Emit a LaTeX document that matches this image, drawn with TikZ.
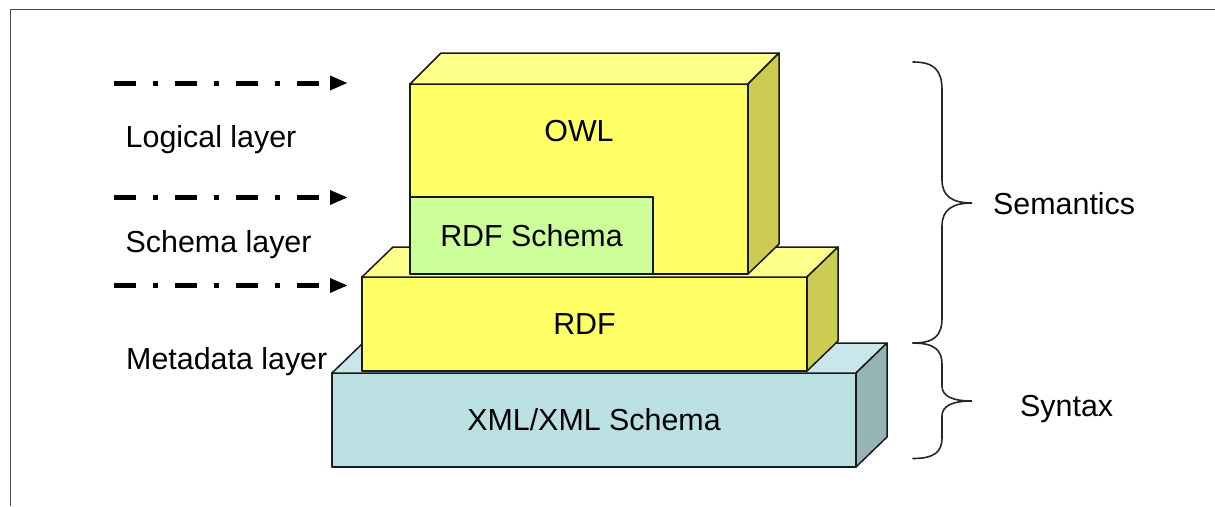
\documentclass[tikz,border=0pt]{standalone}
\usepackage{fontspec}
\setmainfont{Liberation Sans}
\usetikzlibrary{arrows.meta}
\definecolor{yfront}{HTML}{FFFF66}
\definecolor{ytop}{HTML}{FFFF8C}
\definecolor{yside}{HTML}{CCCC52}
\definecolor{gfront}{HTML}{CCFF99}
\definecolor{xfront}{HTML}{BBE0E3}
\definecolor{xtop}{HTML}{C9E6EA}
\definecolor{xside}{HTML}{96B4B6}
\begin{document}
\begin{tikzpicture}[x=1pt,y=-1pt,
  face/.style={draw=black!90, line width=1.5pt, line join=round},
  front/.style={face, rectangle, inner sep=0pt, outer sep=0pt,
    text height=21pt, text depth=0pt, font=\fontsize{30.4}{36}\selectfont},
  lbl/.style={inner sep=0pt, font=\fontsize{30.4}{36}\selectfont},
  dasharrow/.style={line width=5pt, dash pattern=on 22pt off 16.7pt on 5.6pt off 16.7pt,
    -{Triangle[length=18pt,width=13.5pt]}},
  bracepath/.style={line width=1.6pt, draw=black!85, line cap=round},
  frameline/.style={line width=1.5pt, draw=black!70}]
\useasboundingbox (0,0) rectangle (1215,506);
\fill[white] (0,0) rectangle (1215,506);
\draw[frameline] (10.5,506) -- (10.5,9.5) -- (1215,9.5);

% XML box
\node[front, fill=xfront, minimum width=524pt, minimum height=94pt] (xml) at (594,420) {XML/XML Schema};
\filldraw[face, fill=xtop] (xml.north west) -- ++(31,-30) -- ([shift={(31,-30)}]xml.north east) -- (xml.north east) -- cycle;
\filldraw[face, fill=xside] (xml.north east) -- ++(31,-30) -- ([shift={(31,-30)}]xml.south east) -- (xml.south east) -- cycle;

% RDF box
\node[front, fill=yfront, minimum width=445pt, minimum height=94pt] (rdf) at (584.5,324) {RDF};
\filldraw[face, fill=ytop] (rdf.north west) -- ++(31,-30) -- ([shift={(31,-30)}]rdf.north east) -- (rdf.north east) -- cycle;
\filldraw[face, fill=yside] (rdf.north east) -- ++(31,-30) -- ([shift={(31,-30)}]rdf.south east) -- (rdf.south east) -- cycle;

% OWL box
\node[front, fill=yfront, minimum width=338pt, minimum height=190pt] (owl) at (579,179) {};
\filldraw[face, fill=ytop] (owl.north west) -- ++(31,-31) -- ([shift={(31,-31)}]owl.north east) -- (owl.north east) -- cycle;
\filldraw[face, fill=yside] (owl.north east) -- ++(31,-31) -- ([shift={(31,-30)}]owl.south east) -- (owl.south east) -- cycle;
\node[lbl, anchor=base] (owlt) at (579,141.7) {OWL};

% RDF Schema
\node[front, fill=gfront, minimum width=243pt, minimum height=77pt] (rdfs) at (531.5,235.5) {RDF Schema};

% arrows
\coordinate (a1s) at (114,83);   \coordinate (a1e) at (348,83);
\coordinate (a2s) at (114,197.5); \coordinate (a2e) at (348,197.5);
\coordinate (a3s) at (114,285.5); \coordinate (a3e) at (348,285.5);
\draw[dasharrow] (a1s) -- (a1e);
\draw[dasharrow] (a2s) -- (a2e);
\draw[dasharrow] (a3s) -- (a3e);

% left labels
\node[lbl, anchor=base west] (logical) at (125.5,147) {Logical layer};
\node[lbl, anchor=base west] (schema) at (125.5,252.5) {Schema layer};
\node[lbl, anchor=base west] (meta) at (126,369) {Metadata layer};

% braces
\draw[bracepath] (913,62) .. controls (934,62) and (942,70) .. (942,90) -- (942,180)
  .. controls (942,196) and (952,203) .. (972,203)
  .. controls (952,203) and (942,210) .. (942,226) -- (942,318)
  .. controls (942,336) and (934,343) .. (913,343);
\draw[bracepath] (913,343) .. controls (934,343) and (942,350) .. (942,364) -- (942,386)
  .. controls (942,396) and (952,401) .. (972,401)
  .. controls (952,401) and (942,406) .. (942,416) -- (942,438)
  .. controls (942,452) and (934,458.5) .. (913,458.5);

% right labels
\node[lbl, anchor=base west] (sem) at (993,214) {Semantics};
\node[lbl, anchor=base west] (syn) at (1020,416.7) {Syntax};
\end{tikzpicture}
\end{document}
